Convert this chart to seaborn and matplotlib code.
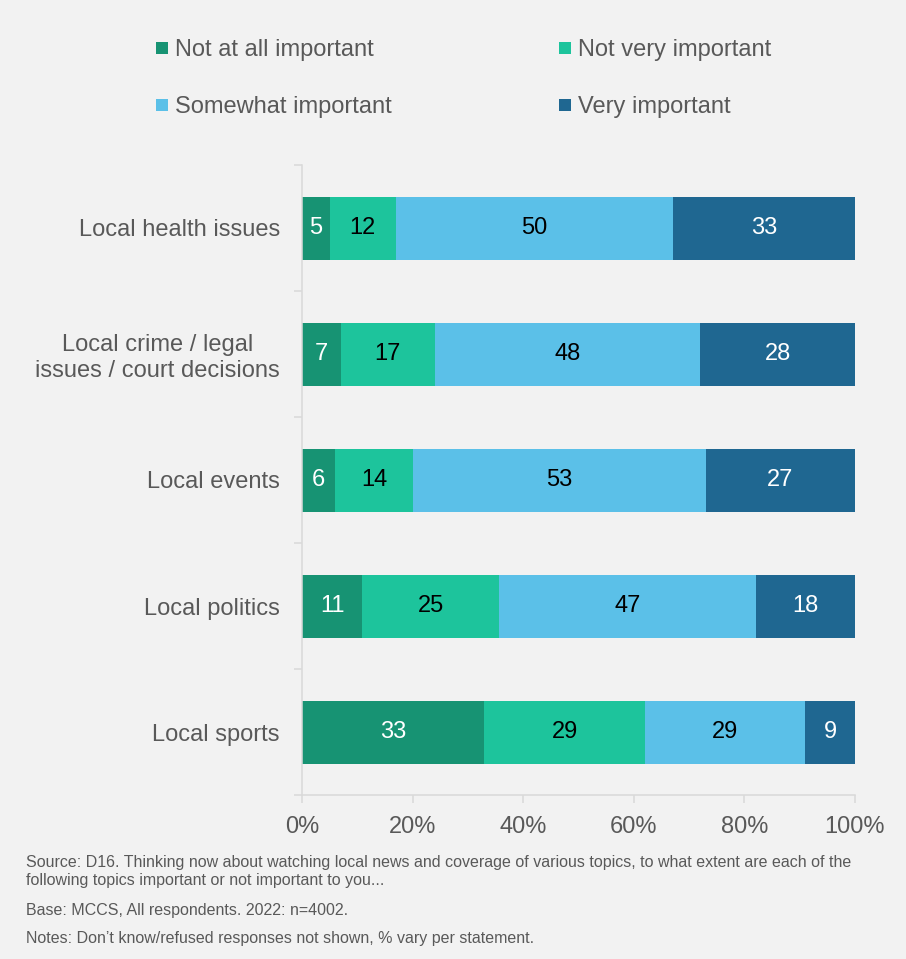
import numpy as np
import pandas as pd
import matplotlib
matplotlib.use("Agg")
import matplotlib.pyplot as plt
from matplotlib.lines import Line2D
from matplotlib.ticker import FixedLocator, PercentFormatter
import seaborn as sns

# Survey results (% of respondents)
topics = [
    "Local health issues",
    "Local crime / legal\nissues / court decisions",
    "Local events",
    "Local politics",
    "Local sports",
]
series_names = ["Not at all important", "Not very important",
                "Somewhat important", "Very important"]
not_at_all = [5, 7, 6, 11, 33]
not_very = [12, 17, 14, 25, 29]
somewhat = [50, 48, 53, 47, 29]
very = [33, 28, 27, 18, 9]

colors = ["#179373", "#1dc49c", "#5bc0e8", "#1f6791"]
label_colors = ["white", "black", "black", "white"]

BG = "#f2f2f2"
TEXT = "#595959"
AXIS = "#d9d9d9"
FS = 17

sns.set_theme(style="white")
plt.rcParams["font.family"] = ["Liberation Sans", "DejaVu Sans"]

values = np.array([not_at_all, not_very, somewhat, very], dtype=float)
shares = values / values.sum(axis=0) * 100          # 100% stacked
right = np.cumsum(shares, axis=0)
left = right - shares

fig = plt.figure(figsize=(9.06, 9.59), dpi=100, facecolor=BG)
ax = fig.add_axes([302 / 906, 1 - 795 / 959, 553 / 906, 630 / 959])
ax.set_facecolor(BG)

# draw the cumulative bars from the widest back to the narrowest
for k in range(len(series_names) - 1, -1, -1):
    df = pd.DataFrame({"topic": topics, "end": right[k]})
    sns.barplot(data=df, x="end", y="topic", orient="h", color=colors[k],
                saturation=1, width=0.5, linewidth=0, ax=ax)

for k in range(len(series_names)):
    for i in range(len(topics)):
        ax.text(left[k, i] + shares[k, i] / 2, i, f"{int(values[k, i])}",
                ha="center", va="center", fontsize=FS,
                color=label_colors[k])

ax.set_xlim(0, 100)
ax.set_ylim(len(topics) - 0.5, -0.5)
ax.set_xlabel("")
ax.set_ylabel("")
ax.xaxis.set_major_locator(FixedLocator([0, 20, 40, 60, 80, 100]))
ax.xaxis.set_major_formatter(PercentFormatter(decimals=0))
ax.yaxis.set_minor_locator(FixedLocator(np.arange(-0.5, len(topics), 1.0)))

for side in ["top", "right"]:
    ax.spines[side].set_visible(False)
for side in ["left", "bottom"]:
    ax.spines[side].set_color(AXIS)
    ax.spines[side].set_linewidth(1.1)

ax.tick_params(axis="x", which="major", length=6, width=1.1, color=AXIS,
               labelsize=FS, labelcolor=TEXT, pad=9, bottom=True)
ax.tick_params(axis="y", which="major", length=0, labelsize=FS,
               labelcolor=TEXT, pad=16)
ax.tick_params(axis="y", which="minor", length=6, width=1.1, color=AXIS,
               left=True)
for t in ax.get_yticklabels():
    t.set_horizontalalignment("right")
    t.set_multialignment("center")

# legend laid out row by row: matplotlib fills columns first
order = [0, 2, 1, 3]
handles = [Line2D([], [], marker="s", linestyle="none", markersize=9,
                  markerfacecolor=colors[k], markeredgewidth=0) for k in order]
fig.legend(handles, [series_names[k] for k in order], loc="upper left",
           ncol=2, bbox_to_anchor=(155 / 906, 1 - 39 / 959), frameon=False,
           fontsize=FS, labelcolor=TEXT, handlelength=0.6,
           handletextpad=0.25, columnspacing=7.05, labelspacing=1.48,
           borderpad=0, borderaxespad=0)

notes = [
    (862, "Source: D16. Thinking now about watching local news and coverage of various topics, to what extent are each of the"),
    (880, "following topics important or not important to you..."),
    (910, "Base: MCCS, All respondents. 2022: n=4002."),
    (938, "Notes: Don\u2019t know/refused responses not shown, % vary per statement."),
]
for y, s in notes:
    fig.text(26 / 906, 1 - y / 959, s, ha="left", va="center",
             fontsize=11.5, color=TEXT)

fig.savefig("out.png", dpi=100, facecolor=BG)
